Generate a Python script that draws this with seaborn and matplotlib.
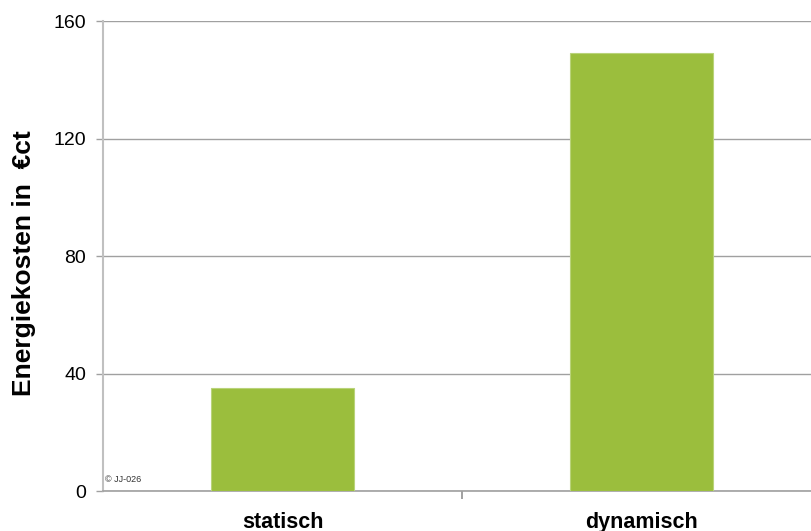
import matplotlib
matplotlib.use("Agg")
import matplotlib.pyplot as plt
from matplotlib.ticker import FixedLocator
import seaborn as sns
import pandas as pd

categories = ["statisch", "dynamisch"]
kosten = [35, 149]
y_ticks = [0, 40, 80, 120, 160]

sns.set_theme(style="white")
plt.rcParams["font.family"] = ["Liberation Sans", "DejaVu Sans"]

df = pd.DataFrame({"Modus": categories, "Kosten": kosten})

fig = plt.figure(figsize=(8.11, 5.31), dpi=100)
ax = fig.add_axes([0.127, 0.0753, 0.8853, 0.8851])

sns.barplot(data=df, x="Modus", y="Kosten", color="#9bbe3d", saturation=1,
            width=0.4, edgecolor="#b9d37a", linewidth=0.8, ax=ax, zorder=3)

ax.set_xlim(-0.5, 1.5)
ax.set_ylim(0, 160)
ax.set_yticks(y_ticks)
ax.yaxis.grid(True, color="#a0a0a0", linewidth=1.0, zorder=0)
ax.xaxis.grid(False)

for side in ("top", "right"):
    ax.spines[side].set_visible(False)
ax.spines["left"].set_color("#c0c0c0")
ax.spines["left"].set_linewidth(1.5)
ax.spines["bottom"].set_color("#a0a0a0")
ax.spines["bottom"].set_linewidth(1.2)

ax.tick_params(axis="y", which="major", left=True, length=5, width=1.0,
               color="#a0a0a0", labelsize=14, pad=7, labelcolor="black")
ax.tick_params(axis="x", which="major", bottom=False, length=0,
               labelsize=15.5, pad=15, labelcolor="black")
for lbl in ax.get_xticklabels():
    lbl.set_fontweight("bold")
ax.xaxis.set_minor_locator(FixedLocator([0.5]))
ax.tick_params(axis="x", which="minor", bottom=True, length=6, width=1.2,
               color="#909090")

ax.set_xlabel("")
ax.set_ylabel("Energiekosten in  €ct", fontsize=19, fontweight="bold",
              color="black")
ax.yaxis.set_label_coords(-0.093, 0.485)

ax.text(0.003, 0.014, "© JJ-026", transform=ax.transAxes, fontsize=6.5,
        color="#333333", ha="left", va="bottom", zorder=5)

fig.savefig("out.png", dpi=100)
